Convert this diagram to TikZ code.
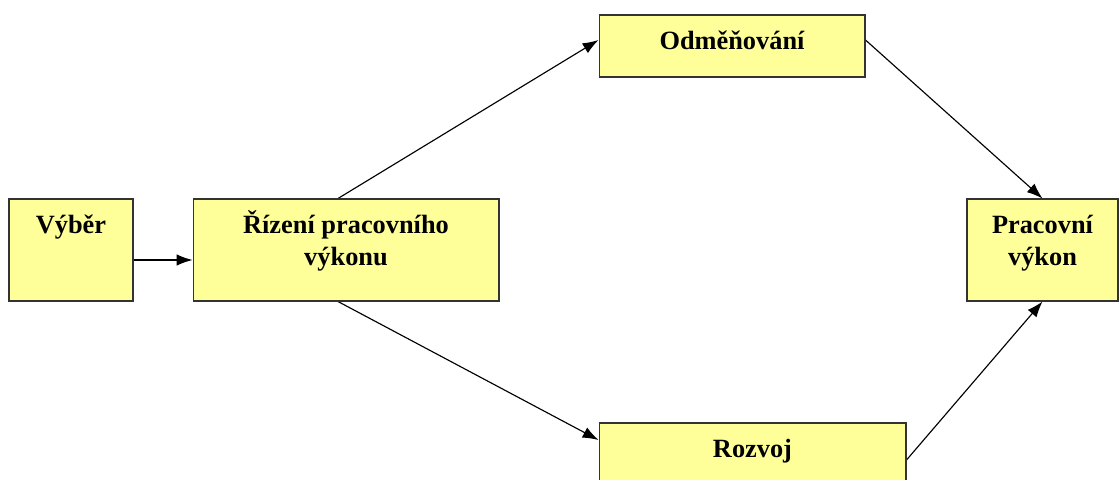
\documentclass[tikz,border=0pt]{standalone}
\usepackage{fontspec}
\setmainfont{Liberation Serif}
\usetikzlibrary{arrows.meta}
\pgfdeclarelayer{nodelayer}
\pgfdeclarelayer{edgelayer}
\pgfsetlayers{edgelayer,nodelayer,main}
\definecolor{boxyellow}{HTML}{FFFF99}
\definecolor{boxline}{HTML}{333333}
\tikzstyle{yellow box}=[fill=boxyellow, draw=boxline, line width=0.6pt, shape=rectangle, inner sep=0pt]
\tikzstyle{box text}=[font=\bfseries\fontsize{15}{18}\selectfont, align=center, anchor=base, inner sep=0pt, yshift=-0.7cm]
\tikzstyle{box text 2}=[style=box text, yshift=-0.64cm]
\tikzstyle{arrow edge}=[draw=black, line width=0.65pt, -{Latex[length=9pt,width=6.5pt]}]

\begin{document}
\begin{tikzpicture}[x=0.02cm, y=-0.02cm]
	\useasboundingbox (0, 0) rectangle (1120, 480);
	\begin{pgfonlayer}{nodelayer}
		\node [style=yellow box, minimum width=2.48cm, minimum height=2.04cm, label={[box text]north:Výběr}] (0) at (71, 250) {};
		\node [style=yellow box, minimum width=6.12cm, minimum height=2.04cm, label={[box text 2]north:Řízení pracovního\\výkonu}] (1) at (346, 250) {};
		\node [style=yellow box, minimum width=5.32cm, minimum height=1.24cm, label={[box text]north:Odměňování}] (2) at (732, 46) {};
		\node [style=yellow box, minimum width=6.14cm, minimum height=1.24cm, label={[box text]north:Rozvoj}] (3) at (752.5, 454) {};
		\node [style=yellow box, minimum width=3.02cm, minimum height=2.04cm, label={[box text 2]north:Pracovní\\výkon}] (4) at (1042.5, 250) {};
	\end{pgfonlayer}
	\begin{pgfonlayer}{edgelayer}
		\draw [style=arrow edge] ([yshift=-0.2cm]0.east) to ([yshift=-0.2cm]1.west);
		\draw [style=arrow edge] ([xshift=-0.16cm]1.north) to ([yshift=0.12cm]2.west);
		\draw [style=arrow edge] ([xshift=-0.16cm]1.south) to ([yshift=0.28cm]3.west);
		\draw [style=arrow edge] ([yshift=0.12cm]2.east) to (4.north);
		\draw [style=arrow edge] ([yshift=-0.12cm]3.east) to (4.south);
	\end{pgfonlayer}
\end{tikzpicture}
\end{document}
